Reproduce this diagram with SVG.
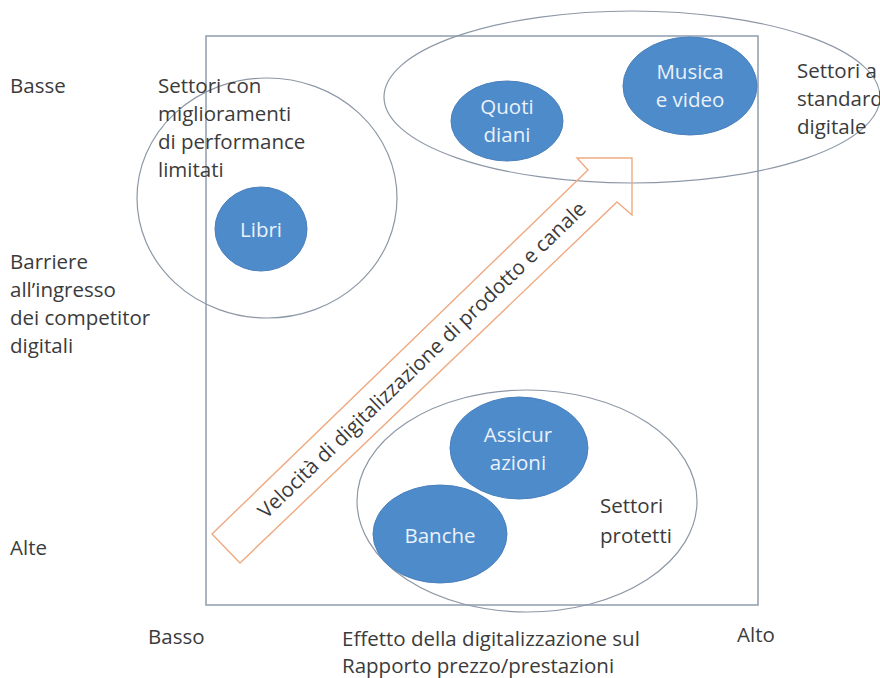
<svg xmlns="http://www.w3.org/2000/svg" width="880" height="678" viewBox="0 0 880 678">
<style>
  .t{font-family:"Open Sans","Liberation Sans",Arial,sans-serif;font-size:20.5px;fill:#3b3b3b}
  .nt{font-family:"Open Sans","Liberation Sans",Arial,sans-serif;font-size:20.5px;fill:#eaf1fa;text-anchor:middle}
  .node{fill:#4e8bcb;stroke:#4a80bb;stroke-width:1}
  .grp{fill:none;stroke:#8d98a6;stroke-width:1.2}
  .frame{fill:none;stroke:#97a3b3;stroke-width:1.6}
  .arrow{fill:none;stroke:#eeaa80;stroke-width:1.4;stroke-linejoin:miter}
</style>
<rect width="880" height="678" fill="#ffffff"/>
<rect class="frame" x="206" y="36" width="552" height="569"/>

<g id="settori-limitati">
  <ellipse class="grp" cx="267" cy="198" rx="130" ry="120"/>
  <text class="t" x="158" y="93">Settori con</text>
  <text class="t" x="158" y="121">miglioramenti</text>
  <text class="t" x="158" y="149">di performance</text>
  <text class="t" x="158" y="177">limitati</text>
</g>
<g id="settori-standard">
  <ellipse class="grp" cx="632" cy="97" rx="248" ry="86"/>
  <text class="t" x="797" y="78">Settori a</text>
  <text class="t" x="797" y="106">standard</text>
  <text class="t" x="797" y="134">digitale</text>
</g>
<g id="settori-protetti">
  <ellipse class="grp" cx="527" cy="501" rx="170" ry="111"/>
  <text class="t" x="600" y="513">Settori</text>
  <text class="t" x="600" y="543">protetti</text>
</g>

<g id="connectors">
  <polygon class="arrow" points="212,534 588,170 577,158 632,158 632,215 617,202 240,563"/>
  <text class="t" font-size="21" text-anchor="middle" transform="translate(422,360) rotate(-43.9)" dy="7">Velocità di digitalizzazione di prodotto e canale</text>
</g>

<g id="libri">
  <ellipse class="node" cx="261" cy="229" rx="46" ry="42"/>
  <text class="nt" x="261" y="237">Libri</text>
</g>
<g id="quotidiani">
  <ellipse class="node" cx="507" cy="121" rx="56" ry="40"/>
  <text class="nt" x="507" y="114">Quoti</text>
  <text class="nt" x="507" y="142">diani</text>
</g>
<g id="musica-video">
  <ellipse class="node" cx="690" cy="86" rx="67" ry="49"/>
  <text class="nt" x="690" y="79">Musica</text>
  <text class="nt" x="690" y="107">e video</text>
</g>
<g id="assicurazioni">
  <ellipse class="node" cx="519" cy="448" rx="69" ry="51"/>
  <text class="nt" x="518" y="442">Assicur</text>
  <text class="nt" x="518" y="470">azioni</text>
</g>
<g id="banche">
  <ellipse class="node" cx="440" cy="534" rx="67" ry="49"/>
  <text class="nt" x="440" y="543">Banche</text>
</g>

<g id="axis-labels">
  <text class="t" x="10" y="93">Basse</text>
  <text class="t" x="10" y="269">Barriere</text>
  <text class="t" x="10" y="297">all’ingresso</text>
  <text class="t" x="10" y="325">dei competitor</text>
  <text class="t" x="10" y="353">digitali</text>
  <text class="t" x="10" y="555">Alte</text>
  <text class="t" x="148" y="644">Basso</text>
  <text class="t" x="342" y="646">Effetto della digitalizzazione sul</text>
  <text class="t" x="342" y="673">Rapporto prezzo/prestazioni</text>
  <text class="t" x="737" y="642">Alto</text>
</g>
</svg>
